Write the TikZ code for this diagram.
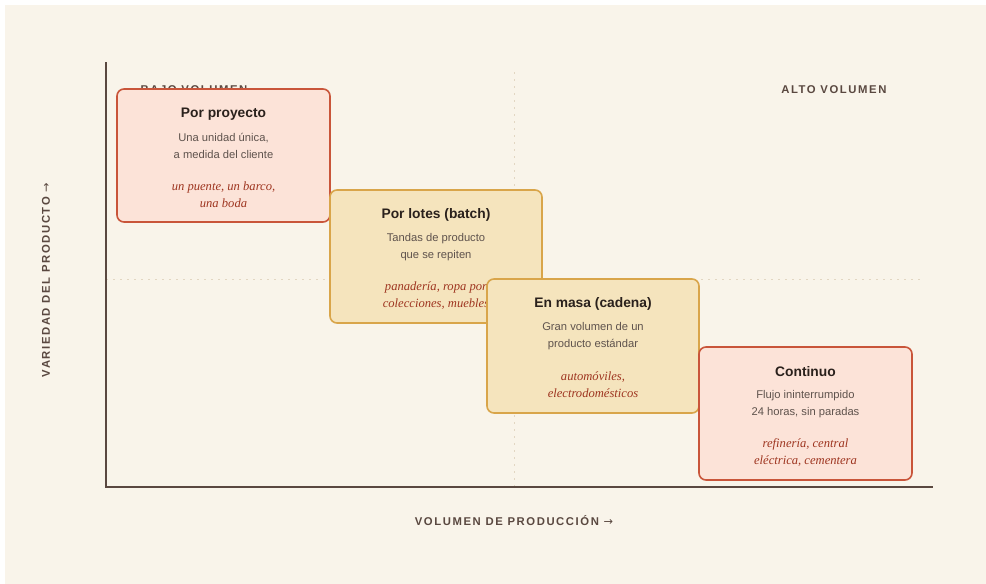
\documentclass[tikz,border=0pt]{standalone}
\usepackage{fontspec}
\setmainfont{Liberation Sans}
\newfontfamily\capsfont[LetterSpace=14]{Liberation Sans}
\newfontfamily\exfont{Liberation Serif}
\newfontfamily\arrowfont{DejaVu Sans}
\definecolor{bg}{HTML}{F9F4EA}
\definecolor{axis}{HTML}{5A4840}
\definecolor{grid}{HTML}{E2D6C2}
\definecolor{pinkfill}{HTML}{FCE3D8}
\definecolor{pinkdraw}{HTML}{C9553A}
\definecolor{yelfill}{HTML}{F5E4BD}
\definecolor{yeldraw}{HTML}{D9A54A}
\definecolor{titlec}{HTML}{2A211C}
\definecolor{descc}{HTML}{5F534D}
\definecolor{exc}{HTML}{9E3520}
\begin{document}
\begin{tikzpicture}[x=1pt,y=-1pt,
  card/.style={rounded corners=7pt, line width=1.6pt},
  pinkcard/.style={card, fill=pinkfill, draw=pinkdraw},
  yelcard/.style={card, fill=yelfill, draw=yeldraw},
  ttl/.style={font=\fontsize{13.8}{16}\selectfont\bfseries, text=titlec, anchor=center},
  dsc/.style={font=\fontsize{11.2}{16.8}\selectfont, text=descc, align=center, anchor=center},
  exm/.style={font=\fontsize{12.6}{16.8}\selectfont\exfont\itshape, text=exc, align=center, anchor=center},
  axlbl/.style={font=\fontsize{11.3}{12}\selectfont\capsfont\bfseries, text=axis},
  gridline/.style={grid, line width=0.9pt, dash pattern=on 2pt off 5pt}
]
\useasboundingbox (0,0) rectangle (986,584);
\fill[white] (0,0) rectangle (986,584);
\fill[bg] (5,5) rectangle (986,584);
% grid
\draw[gridline] (514,72) -- (514,487);
\draw[gridline] (106,279) -- (922,279);
% corner labels
\node[axlbl, anchor=west] (bajo) at (137,90) {BAJO VOLUMEN};
\node[axlbl, anchor=east] (alto) at (890,90) {ALTO VOLUMEN};
% axes
\coordinate (orig) at (106,487);
\coordinate (ytop) at (106,62);
\coordinate (xend) at (933,487);
\draw[axis, line width=1.8pt] (ytop) -- (orig) -- (xend);
\node[axlbl, rotate=90] (ylab) at (46,280) {VARIEDAD DEL PRODUCTO {\arrowfont\mdseries →}};
\node[axlbl] (xlab) at (514,521) {VOLUMEN DE PRODUCCIÓN {\arrowfont\mdseries →}};
% card 1
\draw[pinkcard] (117,89) rectangle (330,222);
\node[ttl] (t1) at (223.5,114) {Por proyecto};
\node[dsc] (d1) at (223.5,146) {Una unidad única,\\a medida del cliente};
\node[exm] (e1) at (223.5,194.5) {un puente, un barco,\\una boda};
% card 2
\draw[yelcard] (330,190) rectangle (542,323);
\node[ttl] (t2) at (436,215) {Por lotes (batch)};
\node[dsc] (d2) at (436,247) {Tandas de producto\\que se repiten};
\node[exm] (e2) at (436,295.5) {panadería, ropa por\\colecciones, muebles};
% card 3
\draw[yelcard] (487,279) rectangle (699,413);
\node[ttl] (t3) at (593,304) {En masa (cadena)};
\node[dsc] (d3) at (593,336) {Gran volumen de un\\producto estándar};
\node[exm] (e3) at (593,384.5) {automóviles,\\electrodomésticos};
% card 4
\draw[pinkcard] (699,347) rectangle (912,480);
\node[ttl] (t4) at (805.5,372) {Continuo};
\node[dsc] (d4) at (805.5,404) {Flujo ininterrumpido\\24 horas, sin paradas};
\node[exm] (e4) at (805.5,452.5) {refinería, central\\eléctrica, cementera};
\end{tikzpicture}
\end{document}
